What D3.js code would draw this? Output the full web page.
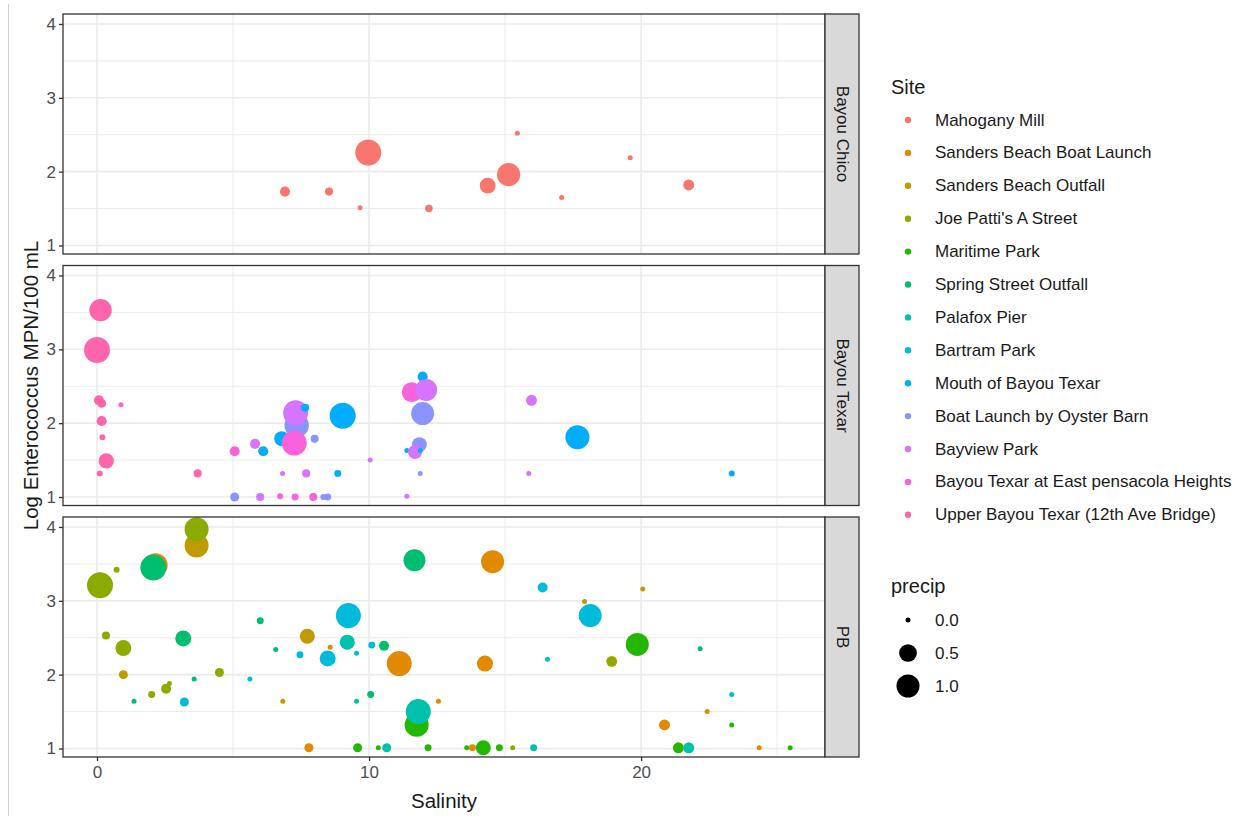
<!DOCTYPE html>
<html>
<head>
<meta charset="utf-8">
<script src="https://cdn.jsdelivr.net/npm/d3@7"></script>
<style>
  html, body { margin: 0; padding: 0; background: #fff; }
  svg { display: block; font-family: "Liberation Sans", Arial, sans-serif; }
</style>
</head>
<body>
<svg id="chart" width="1250" height="816"></svg>
<script>
// Sampling sites (legend order) and their hue colours
const sites = [
  "Mahogany Mill", "Sanders Beach Boat Launch", "Sanders Beach Outfall",
  "Joe Patti's A Street", "Maritime Park", "Spring Street Outfall",
  "Palafox Pier", "Bartram Park", "Mouth of Bayou Texar",
  "Boat Launch by Oyster Barn", "Bayview Park",
  "Bayou Texar at East pensacola Heights", "Upper Bayou Texar (12th Ave Bridge)"
];
const siteColors = [
  "#F8766D", "#E18A00", "#BE9C00", "#8CAB00", "#24B700", "#00BE70",
  "#00C1AB", "#00BBDA", "#00ACFC", "#8B93FF", "#D575FE", "#F962DD", "#FF65AC"
];

const facets = ["Bayou Chico", "Bayou Texar", "PB"];
const xTicks = [0, 10, 20];
const xMinor = [5, 15, 25];
const yTicks = [1, 2, 3, 4];
const yMinor = [1.5, 2.5, 3.5];
const precipBreaks = [0.0, 0.5, 1.0];

// Samples: [site index, salinity, log enterococcus, precip]
const chicoSamples = [
  [0, 6.91, 1.73, 0.08], [0, 8.53, 1.73, 0.03], [0, 9.67, 1.51, 0],
  [0, 9.97, 2.26, 1.36], [0, 12.2, 1.50, 0.02], [0, 14.36, 1.81, 0.36],
  [0, 15.13, 1.96, 1.03], [0, 15.45, 2.52, 0], [0, 17.08, 1.65, 0],
  [0, 19.6, 2.19, 0], [0, 21.75, 1.82, 0.11]
];
const texarSamples = [
  [12, 0.13, 3.53, 0.93], [12, 0.0, 2.99, 1.36], [12, 0.07, 2.31, 0.08],
  [12, 0.17, 2.27, 0.05], [11, 0.88, 2.25, 0], [12, 0.17, 2.03, 0.08],
  [12, 0.20, 1.81, 0.003], [12, 0.34, 1.49, 0.33], [12, 0.10, 1.32, 0.003],
  [12, 3.70, 1.32, 0.03], [11, 5.06, 1.62, 0.08], [9, 5.06, 1.0, 0.05],
  [10, 5.81, 1.72, 0.08], [8, 6.11, 1.62, 0.08], [10, 6.0, 1.0, 0.03],
  [11, 6.73, 1.01, 0.003], [10, 6.82, 1.32, 0], [11, 7.28, 1.0, 0.012],
  [10, 7.69, 1.32, 0.03], [11, 7.95, 1.0, 0.03], [9, 8.32, 1.0, 0.003],
  [9, 8.48, 1.0, 0.012], [8, 8.85, 1.32, 0.012], [10, 10.04, 1.5, 0],
  [10, 11.39, 1.01, 0], [9, 11.88, 1.32, 0], [8, 11.39, 1.63, 0],
  [9, 11.85, 1.71, 0.3], [10, 11.69, 1.61, 0.25], [8, 11.88, 1.63, 0],
  [8, 11.97, 2.63, 0.08], [11, 11.57, 2.42, 0.69], [9, 11.97, 2.13, 1.0],
  [10, 12.1, 2.45, 0.89], [8, 9.03, 2.10, 1.36], [9, 8.0, 1.79, 0.028],
  [9, 7.34, 1.97, 1.15], [10, 7.30, 2.14, 1.23], [8, 7.65, 2.21, 0.028],
  [8, 6.79, 1.79, 0.31], [11, 7.25, 1.73, 1.23], [10, 15.97, 2.31, 0.11],
  [10, 15.87, 1.32, 0], [8, 17.66, 1.81, 1.11], [8, 23.33, 1.32, 0.003]
];
const pbSamples = [
  [1, 2.15, 3.48, 1.15], [5, 2.07, 3.45, 1.36], [2, 3.66, 3.75, 1.11],
  [3, 3.66, 3.97, 1.11], [3, 0.11, 3.21, 1.36], [3, 0.72, 3.42, 0.003],
  [3, 0.33, 2.53, 0.03], [3, 0.97, 2.36, 0.37], [2, 0.97, 2.0, 0.05],
  [5, 1.36, 1.64, 0], [3, 2.01, 1.73, 0.012], [3, 2.54, 1.81, 0.077],
  [3, 2.66, 1.88, 0], [5, 3.17, 2.49, 0.37], [7, 3.21, 1.63, 0.05],
  [5, 3.57, 1.94, 0], [3, 4.5, 2.03, 0.05], [7, 5.62, 1.94, 0],
  [5, 6.0, 2.73, 0.012], [5, 6.57, 2.34, 0], [2, 6.83, 1.64, 0],
  [7, 7.46, 2.27, 0.012], [2, 7.73, 2.52, 0.31], [1, 7.79, 1.01, 0.05],
  [7, 8.48, 2.22, 0.37], [1, 8.57, 2.37, 0], [7, 9.24, 2.80, 1.23],
  [6, 9.2, 2.44, 0.31], [7, 9.54, 2.29, 0], [6, 9.54, 1.64, 0],
  [4, 9.58, 1.01, 0.05], [7, 10.1, 2.40, 0.012], [5, 10.06, 1.73, 0.012],
  [4, 10.34, 1.01, 0], [5, 10.55, 2.39, 0.077], [6, 10.65, 1.01, 0.05],
  [1, 11.11, 2.15, 1.23], [5, 11.67, 3.55, 0.89], [4, 11.75, 1.32, 1.11],
  [6, 11.81, 1.50, 1.23], [4, 12.17, 1.01, 0.012], [1, 12.55, 1.64, 0],
  [4, 13.59, 1.01, 0], [1, 13.80, 1.01, 0.012], [4, 14.2, 1.01, 0.31],
  [1, 14.54, 3.53, 1.0], [1, 14.26, 2.15, 0.37], [4, 14.79, 1.01, 0.012],
  [3, 15.28, 1.01, 0], [6, 16.05, 1.01, 0.012], [7, 16.38, 3.18, 0.077],
  [7, 16.56, 2.21, 0], [2, 17.92, 2.99, 0], [7, 18.13, 2.80, 1.0],
  [2, 18.92, 2.18, 0.11], [3, 18.92, 2.18, 0.05], [2, 20.06, 3.16, 0],
  [4, 19.86, 2.41, 1.0], [5, 22.17, 2.35, 0], [7, 23.33, 1.73, 0],
  [1, 22.43, 1.50, 0], [1, 20.86, 1.32, 0.11], [4, 23.33, 1.32, 0],
  [4, 21.37, 1.01, 0.11], [6, 21.75, 1.01, 0.11], [1, 24.34, 1.01, 0],
  [4, 25.48, 1.01, 0]
];
const facetSamples = [chicoSamples, texarSamples, pbSamples];

const svg = d3.select("#chart");

// Layout
const plotLeft = 63, plotRight = 825, stripW = 34;
const panelTops = [14, 265.5, 517], panelH = 240;
const textColor = "#4D4D4D", darkText = "#1A1A1A";

const x = d3.scaleLinear().domain([-1.25, 26.76]).range([plotLeft, plotRight]);
const color = d3.scaleOrdinal().domain(d3.range(sites.length)).range(siteColors);
const size = d3.scalePow().exponent(0.5).domain([0, 1.36]).range([2.5, 13]);

// Thin frame line along the left edge
svg.append("line").attr("x1", 8.5).attr("x2", 8.5).attr("y1", 4).attr("y2", 816)
  .attr("stroke", "#D0D0D0").attr("stroke-width", 1);

facets.forEach((name, i) => {
  const top = panelTops[i];
  const y = d3.scaleLinear().domain([0.885, 4.135]).range([top + panelH, top]);
  const g = svg.append("g");

  // background grid
  const grid = g.append("g");
  grid.selectAll(".vmin").data(xMinor).join("line")
    .attr("x1", d => x(d)).attr("x2", d => x(d))
    .attr("y1", top).attr("y2", top + panelH)
    .attr("stroke", "#EBEBEB").attr("stroke-width", 1);
  grid.selectAll(".hmin").data(yMinor).join("line")
    .attr("y1", d => y(d)).attr("y2", d => y(d))
    .attr("x1", plotLeft).attr("x2", plotRight)
    .attr("stroke", "#EBEBEB").attr("stroke-width", 1);
  grid.selectAll(".vmaj").data(xTicks).join("line")
    .attr("x1", d => x(d)).attr("x2", d => x(d))
    .attr("y1", top).attr("y2", top + panelH)
    .attr("stroke", "#EBEBEB").attr("stroke-width", 1.6);
  grid.selectAll(".hmaj").data(yTicks).join("line")
    .attr("y1", d => y(d)).attr("y2", d => y(d))
    .attr("x1", plotLeft).attr("x2", plotRight)
    .attr("stroke", "#EBEBEB").attr("stroke-width", 1.6);

  // points
  g.append("g").selectAll("circle").data(facetSamples[i]).join("circle")
    .attr("cx", d => x(d[1]))
    .attr("cy", d => y(d[2]))
    .attr("r", d => size(d[3]))
    .attr("fill", d => color(d[0]));

  // panel border
  g.append("rect").attr("x", plotLeft).attr("y", top)
    .attr("width", plotRight - plotLeft).attr("height", panelH)
    .attr("fill", "none").attr("stroke", "#333333").attr("stroke-width", 1.3);

  // y axis
  const yAxis = g.append("g").attr("transform", `translate(${plotLeft},0)`)
    .call(d3.axisLeft(y).tickValues(yTicks).tickSize(4).tickPadding(3).tickFormat(d3.format("d")));
  yAxis.select(".domain").remove();
  yAxis.selectAll(".tick line").attr("stroke", "#333333").attr("stroke-width", 1.3);
  yAxis.selectAll(".tick text").attr("fill", textColor)
    .style("font-size", "17px").style("font-family", "Liberation Sans, Arial, sans-serif");

  // strip on the right
  g.append("rect").attr("x", plotRight).attr("y", top)
    .attr("width", stripW).attr("height", panelH)
    .attr("fill", "#D9D9D9").attr("stroke", "#333333").attr("stroke-width", 1.3);
  g.append("text")
    .attr("transform", `translate(${plotRight + stripW / 2},${top + panelH / 2}) rotate(90)`)
    .attr("text-anchor", "middle").attr("dominant-baseline", "central")
    .attr("fill", darkText).style("font-size", "17px")
    .text(name);

  if (i === facets.length - 1) {
    const xAxis = g.append("g").attr("transform", `translate(0,${top + panelH})`)
      .call(d3.axisBottom(x).tickValues(xTicks).tickSize(4).tickPadding(5).tickFormat(d3.format("d")));
    xAxis.select(".domain").remove();
    xAxis.selectAll(".tick line").attr("stroke", "#333333").attr("stroke-width", 1.3);
    xAxis.selectAll(".tick text").attr("fill", textColor)
      .style("font-size", "17px").style("font-family", "Liberation Sans, Arial, sans-serif");
  }
});

// axis titles
svg.append("text").attr("x", (plotLeft + plotRight) / 2).attr("y", 808)
  .attr("text-anchor", "middle").attr("fill", darkText).style("font-size", "20.5px")
  .text("Salinity");
svg.append("text")
  .attr("transform", `translate(38,${(panelTops[0] + panelTops[2] + panelH) / 2}) rotate(-90)`)
  .attr("text-anchor", "middle").attr("fill", darkText).style("font-size", "20.5px")
  .text("Log Enterococcus MPN/100 mL");

// Site legend
const legX = 891, keyX = 908, labelX = 935;
svg.append("text").attr("x", legX).attr("y", 94).attr("fill", darkText)
  .style("font-size", "20px").text("Site");
const siteLeg = svg.append("g").selectAll("g").data(sites).join("g")
  .attr("transform", (d, i) => `translate(0,${120 + i * 32.9})`);
siteLeg.append("circle").attr("cx", keyX).attr("cy", 0).attr("r", 3.2)
  .attr("fill", (d, i) => color(i));
siteLeg.append("text").attr("x", labelX).attr("y", 0).attr("dominant-baseline", "central")
  .attr("fill", darkText).style("font-size", "17px").text(d => d);

// precip legend
svg.append("text").attr("x", legX).attr("y", 593).attr("fill", darkText)
  .style("font-size", "20px").text("precip");
const precipLeg = svg.append("g").selectAll("g").data(precipBreaks).join("g")
  .attr("transform", (d, i) => `translate(0,${620 + i * 33})`);
precipLeg.append("circle").attr("cx", keyX).attr("cy", 0).attr("r", d => size(d))
  .attr("fill", "#000");
precipLeg.append("text").attr("x", labelX).attr("y", 0).attr("dominant-baseline", "central")
  .attr("fill", darkText).style("font-size", "17px").text(d => d3.format(".1f")(d));
</script>
</body>
</html>
